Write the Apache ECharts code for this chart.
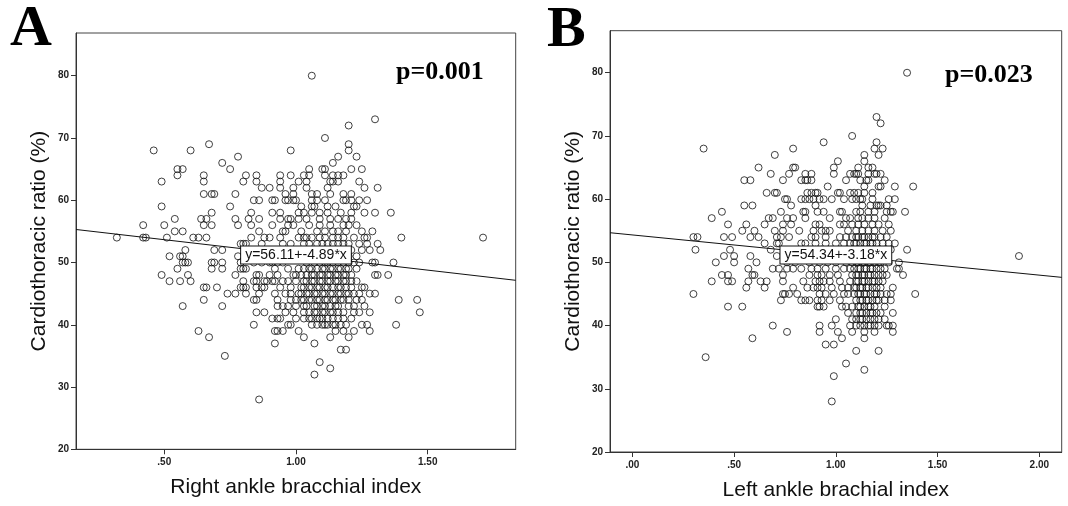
<!DOCTYPE html>
<html>
<head>
<meta charset="utf-8">
<script src="https://cdn.jsdelivr.net/npm/echarts@6/dist/echarts.min.js"></script>
<style>
  html, body { margin: 0; padding: 0; background: #fff; }
  #chart { width: 1068px; height: 506px; }
</style>
</head>
<body>
<div id="chart"></div>
<script>
// ---------- DATA ----------
// Each row: [cardiothoracic ratio (%), ankle-brachial index values...]
const rightRows = [
  [80, 1.06],
  [73, 1.30],
  [72, 1.20],
  [70, 1.11],
  [69, 0.67, 1.20],
  [68, 0.46, 0.60, 0.98, 1.20],
  [67, 0.78, 1.16, 1.23],
  [66, 0.72, 1.14],
  [65, 0.55, 0.57, 0.75, 1.05, 1.10, 1.11, 1.21, 1.25],
  [64, 0.55, 0.65, 0.81, 0.85, 0.94, 0.98, 1.03, 1.05, 1.11, 1.14, 1.16, 1.18],
  [63, 0.49, 0.65, 0.80, 0.85, 0.94, 1.01, 1.04, 1.13, 1.14, 1.16, 1.24],
  [62, 0.87, 0.90, 0.94, 0.99, 1.04, 1.12, 1.26, 1.31],
  [61, 0.65, 0.68, 0.69, 0.77, 0.96, 0.99, 1.06, 1.08, 1.13, 1.18, 1.21],
  [60, 0.84, 0.86, 0.91, 0.92, 0.96, 0.97, 0.99, 1.00, 1.06, 1.08, 1.11, 1.18, 1.19, 1.21, 1.24, 1.27],
  [59, 0.49, 0.75, 1.02, 1.06, 1.07, 1.12, 1.15, 1.22, 1.23],
  [58, 0.68, 0.83, 0.91, 0.94, 1.01, 1.03, 1.06, 1.09, 1.12, 1.17, 1.21, 1.26, 1.30, 1.36],
  [57, 0.54, 0.64, 0.66, 0.77, 0.82, 0.86, 0.94, 0.97, 0.98, 1.01, 1.04, 1.09, 1.13, 1.16, 1.19, 1.21],
  [56, 0.42, 0.50, 0.65, 0.68, 0.78, 0.83, 0.91, 0.97, 0.99, 1.05, 1.09, 1.13, 1.18, 1.20, 1.23],
  [55, 0.54, 0.57, 0.86, 0.95, 0.96, 1.02, 1.08, 1.11, 1.14, 1.16, 1.19, 1.25, 1.29],
  [54, 0.32, 0.42, 0.43, 0.51, 0.61, 0.63, 0.66, 0.83, 0.88, 0.90, 0.94, 1.01, 1.03, 1.04, 1.06, 1.09, 1.11, 1.14, 1.16, 1.18, 1.22, 1.26, 1.27, 1.40, 1.71],
  [53, 0.79, 0.80, 0.81, 0.87, 0.95, 0.98, 1.03, 1.05, 1.08, 1.10, 1.12, 1.14, 1.16, 1.18, 1.20, 1.24, 1.27, 1.31],
  [52, 0.58, 0.69, 0.72, 0.83, 0.86, 0.92, 1.00, 1.06, 1.09, 1.11, 1.13, 1.15, 1.17, 1.19, 1.21, 1.25, 1.28, 1.32],
  [51, 0.52, 0.56, 0.57, 0.78, 0.83, 0.88, 1.06, 1.09, 1.12, 1.14, 1.16, 1.18, 1.20, 1.23],
  [50, 0.57, 0.58, 0.59, 0.68, 0.69, 0.72, 0.79, 0.84, 0.87, 0.90, 0.91, 0.93, 0.95, 1.04, 1.07, 1.09, 1.11, 1.12, 1.14, 1.16, 1.18, 1.20, 1.22, 1.24, 1.29, 1.30, 1.37],
  [49, 0.55, 0.68, 0.72, 0.79, 0.80, 0.81, 0.92, 0.97, 1.01, 1.03, 1.05, 1.06, 1.08, 1.10, 1.11, 1.13, 1.14, 1.16, 1.17, 1.19, 1.20, 1.23],
  [48, 0.49, 0.59, 0.77, 0.85, 0.86, 0.90, 0.93, 0.99, 1.00, 1.02, 1.04, 1.06, 1.07, 1.09, 1.10, 1.12, 1.13, 1.15, 1.16, 1.18, 1.19, 1.21, 1.30, 1.31, 1.35],
  [47, 0.52, 0.56, 0.60, 0.80, 0.84, 0.85, 0.88, 0.89, 0.91, 0.92, 0.95, 0.97, 1.00, 1.03, 1.04, 1.06, 1.07, 1.09, 1.10, 1.12, 1.13, 1.15, 1.16, 1.18, 1.19, 1.21, 1.23],
  [46, 0.65, 0.66, 0.70, 0.79, 0.80, 0.81, 0.85, 0.87, 0.88, 0.94, 0.98, 1.02, 1.03, 1.05, 1.06, 1.08, 1.09, 1.11, 1.12, 1.14, 1.16, 1.17, 1.19, 1.21, 1.25, 1.26],
  [45, 0.74, 0.77, 0.81, 0.86, 0.92, 0.96, 0.98, 1.01, 1.02, 1.04, 1.05, 1.07, 1.08, 1.10, 1.11, 1.13, 1.14, 1.16, 1.17, 1.19, 1.20, 1.22, 1.24, 1.28, 1.30],
  [44, 0.65, 0.84, 0.85, 0.93, 0.98, 1.00, 1.02, 1.03, 1.05, 1.06, 1.08, 1.09, 1.11, 1.12, 1.14, 1.15, 1.17, 1.18, 1.20, 1.23, 1.25, 1.39, 1.46],
  [43, 0.57, 0.72, 0.93, 0.95, 0.97, 1.00, 1.03, 1.04, 1.07, 1.08, 1.10, 1.11, 1.13, 1.15, 1.16, 1.20, 1.22, 1.26],
  [42, 0.85, 0.88, 0.96, 0.99, 1.03, 1.05, 1.07, 1.08, 1.10, 1.11, 1.13, 1.14, 1.16, 1.18, 1.22, 1.24, 1.28, 1.47],
  [41, 0.91, 0.93, 0.94, 1.00, 1.03, 1.05, 1.06, 1.08, 1.09, 1.10, 1.12, 1.14, 1.16, 1.18, 1.21],
  [40, 0.84, 0.97, 0.98, 1.06, 1.08, 1.10, 1.11, 1.12, 1.14, 1.15, 1.17, 1.19, 1.25, 1.27, 1.38],
  [39, 0.63, 0.92, 0.93, 0.95, 1.01, 1.15, 1.18, 1.22, 1.28],
  [38, 0.67, 1.03, 1.13, 1.20],
  [37, 0.92, 1.07],
  [36, 1.17, 1.19],
  [35, 0.73],
  [34, 1.09],
  [33, 1.13],
  [32, 1.07],
  [28, 0.86]
];

const leftRows = [
  [80, 1.35],
  [73, 1.20],
  [72, 1.22],
  [70, 1.08],
  [69, 0.94, 1.20],
  [68, 0.35, 0.79, 1.19, 1.23],
  [67, 0.70, 1.14, 1.21],
  [66, 1.01, 1.14],
  [65, 0.62, 0.79, 0.80, 0.99, 1.11, 1.16, 1.18],
  [64, 0.68, 0.77, 0.85, 0.88, 0.99, 1.07, 1.09, 1.10, 1.11, 1.16, 1.19, 1.20, 1.22],
  [63, 0.55, 0.58, 0.74, 0.83, 0.85, 0.86, 0.88, 1.05, 1.12, 1.15, 1.16, 1.24],
  [62, 0.96, 1.14, 1.21, 1.22, 1.29, 1.38],
  [61, 0.66, 0.70, 0.71, 0.86, 0.88, 0.90, 0.91, 1.01, 1.02, 1.07, 1.09, 1.11, 1.14, 1.18],
  [60, 0.75, 0.76, 0.83, 0.85, 0.87, 0.89, 0.92, 0.94, 0.98, 1.04, 1.08, 1.10, 1.12, 1.13, 1.18, 1.26, 1.29],
  [59, 0.55, 0.59, 0.78, 0.90, 1.13, 1.17, 1.20, 1.21, 1.22, 1.25],
  [58, 0.44, 0.73, 0.84, 0.85, 0.91, 0.94, 1.02, 1.03, 1.10, 1.12, 1.16, 1.19, 1.25, 1.27, 1.28, 1.34],
  [57, 0.39, 0.67, 0.69, 0.76, 0.79, 0.85, 0.97, 1.05, 1.07, 1.11, 1.13, 1.16, 1.19, 1.24],
  [56, 0.47, 0.56, 0.65, 0.74, 0.78, 0.90, 0.92, 1.02, 1.04, 1.08, 1.11, 1.14, 1.18, 1.21, 1.26],
  [55, 0.54, 0.60, 0.70, 0.74, 0.82, 0.89, 0.93, 0.95, 0.97, 1.06, 1.10, 1.13, 1.16, 1.19, 1.23, 1.27],
  [54, 0.30, 0.32, 0.45, 0.49, 0.58, 0.62, 0.71, 0.73, 0.77, 0.88, 0.90, 0.95, 1.02, 1.05, 1.08, 1.10, 1.11, 1.13, 1.14, 1.16, 1.18, 1.19, 1.22, 1.25],
  [53, 0.65, 0.71, 0.72, 0.83, 0.85, 0.90, 0.95, 1.00, 1.04, 1.07, 1.09, 1.10, 1.12, 1.14, 1.15, 1.17, 1.18, 1.20, 1.23, 1.26, 1.29],
  [52, 0.31, 0.48, 0.68, 0.90, 0.93, 1.02, 1.08, 1.10, 1.12, 1.13, 1.15, 1.17, 1.18, 1.21, 1.22, 1.25, 1.27, 1.35],
  [51, 0.45, 0.50, 0.58, 0.71, 0.85, 0.88, 0.96, 1.06, 1.09, 1.11, 1.12, 1.14, 1.15, 1.17, 1.20, 1.21, 1.24, 1.90],
  [50, 0.41, 0.50, 0.61, 0.76, 0.80, 0.87, 0.92, 0.96, 1.00, 1.05, 1.08, 1.10, 1.11, 1.13, 1.14, 1.16, 1.17, 1.19, 1.21, 1.22, 1.26, 1.31],
  [49, 0.57, 0.69, 0.72, 0.76, 0.79, 0.83, 0.88, 0.91, 0.95, 1.00, 1.04, 1.07, 1.09, 1.11, 1.12, 1.14, 1.15, 1.17, 1.18, 1.20, 1.22, 1.24, 1.30, 1.31],
  [48, 0.44, 0.47, 0.59, 0.60, 0.74, 0.87, 0.91, 0.93, 0.97, 1.01, 1.08, 1.10, 1.11, 1.13, 1.14, 1.16, 1.17, 1.19, 1.21, 1.23, 1.25, 1.33],
  [47, 0.39, 0.47, 0.49, 0.57, 0.63, 0.66, 0.74, 0.84, 0.90, 0.92, 0.94, 0.97, 1.02, 1.07, 1.10, 1.11, 1.13, 1.14, 1.16, 1.18, 1.19, 1.21, 1.23],
  [46, 0.56, 0.65, 0.79, 0.86, 0.89, 0.91, 0.93, 0.98, 1.03, 1.06, 1.09, 1.10, 1.12, 1.13, 1.15, 1.16, 1.18, 1.20, 1.22, 1.28],
  [45, 0.30, 0.74, 0.75, 0.77, 0.81, 0.92, 0.95, 0.99, 1.04, 1.06, 1.09, 1.11, 1.12, 1.14, 1.15, 1.17, 1.19, 1.20, 1.22, 1.25, 1.27, 1.39],
  [44, 0.73, 0.83, 0.85, 0.87, 0.91, 0.93, 0.97, 1.02, 1.10, 1.12, 1.13, 1.15, 1.16, 1.18, 1.20, 1.21, 1.24, 1.27],
  [43, 0.47, 0.54, 0.91, 0.92, 0.94, 1.03, 1.05, 1.08, 1.11, 1.12, 1.14, 1.16, 1.17, 1.19, 1.24],
  [42, 1.06, 1.10, 1.12, 1.13, 1.15, 1.17, 1.18, 1.20, 1.22, 1.28],
  [41, 1.00, 1.08, 1.10, 1.12, 1.13, 1.15, 1.17, 1.19, 1.21, 1.24],
  [40, 0.69, 0.92, 0.98, 1.07, 1.10, 1.12, 1.14, 1.16, 1.17, 1.19, 1.21, 1.25, 1.26, 1.28],
  [39, 0.76, 0.92, 1.01, 1.08, 1.14, 1.19, 1.28],
  [38, 0.59, 1.03, 1.14],
  [37, 0.95, 0.99],
  [36, 1.10, 1.21],
  [35, 0.36],
  [34, 1.05],
  [33, 1.14],
  [32, 0.99],
  [28, 0.98]
];

// Regression fits printed on the chart: [intercept, slope]
const rightFit = [56.11, -4.89];
const leftFit = [54.34, -3.18];

// Axis ranges and ticks
const rightXRange = [0.165, 1.834];
const leftXRange = [-0.11, 2.11];
const yRangeA = [20, 86.86];
const yRangeB = [20, 86.65];
const rightXTicks = [0.5, 1.0, 1.5];
const leftXTicks = [0, 0.5, 1.0, 1.5, 2.0];
const yTicks = [20, 30, 40, 50, 60, 70, 80];

const labels = {
  panelA: 'A', panelB: 'B',
  pA: 'p=0.001', pB: 'p=0.023',
  xA: 'Right ankle bracchial index', xB: 'Left ankle brachial index',
  y: 'Cardiothoracic ratio (%)'
};

// ---------- BUILD ----------
function toPoints(rows) {
  const pts = [];
  rows.forEach(r => { for (let i = 1; i < r.length; i++) pts.push([r[i], r[0]]); });
  return pts;
}
function fitLine(fit, range) {
  return [[range[0], fit[0] + fit[1] * range[0]], [range[1], fit[0] + fit[1] * range[1]]];
}
function fitText(fit) {
  return 'y=' + fit[0].toFixed(2) + '+' + fit[1].toFixed(2) + '*x';
}
const fmtX = v => v.toFixed(2).replace(/^0/, '');

const tickFont = { fontSize: 10, fontWeight: 'bold', fontFamily: 'Liberation Sans', color: '#222' };
const nameFont = { fontSize: 21, fontFamily: 'Liberation Sans', color: '#111' };
const axisLine = { show: true, onZero: false, lineStyle: { color: '#333', width: 1 } };

function xAxis(gridIndex, range, ticks, name, gap) {
  return {
    type: 'value', gridIndex, min: range[0], max: range[1],
    name, nameLocation: 'middle', nameGap: gap, nameTextStyle: nameFont,
    axisLine,
    axisTick: { show: true, length: 5, customValues: ticks, lineStyle: { color: '#333' } },
    axisLabel: Object.assign({ customValues: ticks, margin: 8, formatter: fmtX }, tickFont),
    splitLine: { show: false }
  };
}
function yAxis(gridIndex, range, name) {
  return {
    type: 'value', gridIndex, min: range[0], max: range[1],
    name, nameLocation: 'middle', nameGap: 26, nameTextStyle: nameFont,
    axisLine,
    axisTick: { show: true, length: 5, customValues: yTicks, lineStyle: { color: '#333' } },
    axisLabel: Object.assign({ customValues: yTicks, margin: 7 }, tickFont),
    splitLine: { show: false }
  };
}
const circle = { color: 'rgba(255,255,255,0)', borderColor: '#111', borderWidth: 1 };
function scatter(i, rows) {
  return {
    type: 'scatter', xAxisIndex: i, yAxisIndex: i, data: toPoints(rows),
    symbol: 'circle', symbolSize: 7, itemStyle: circle, z: 2, silent: true
  };
}
function fitSeries(i, fit, range) {
  return {
    type: 'line', xAxisIndex: i, yAxisIndex: i, data: fitLine(fit, range),
    showSymbol: false, symbol: 'none', lineStyle: { color: '#111', width: 1 }, z: 3, silent: true,
    markPoint: {
      symbol: 'rect', symbolSize: 1, itemStyle: { color: 'rgba(0,0,0,0)' }, silent: true,
      label: {
        show: true, position: 'inside', formatter: fitText(fit),
        backgroundColor: '#fff', borderColor: '#111', borderWidth: 1,
        padding: [2, 4, 1, 4], fontSize: 14, fontFamily: 'Liberation Sans', color: '#111'
      },
      data: [{ coord: [1.0, fit[0] + fit[1] * 1.0] }]
    }
  };
}

const chart = echarts.init(document.getElementById('chart'), null, { renderer: 'canvas' });
chart.setOption({
  animation: false,
  backgroundColor: '#fff',
  grid: [
    { left: 76, top: 33, width: 439.7, height: 416.3, show: true, borderColor: '#444', borderWidth: 1, backgroundColor: 'transparent' },
    { left: 610, top: 30.7, width: 451.7, height: 426.6, show: true, borderColor: '#444', borderWidth: 1, backgroundColor: 'transparent' }
  ],
  xAxis: [
    xAxis(0, rightXRange, rightXTicks, labels.xA, 27),
    xAxis(1, leftXRange, leftXTicks, labels.xB, 28)
  ],
  yAxis: [
    yAxis(0, yRangeA, labels.y),
    yAxis(1, yRangeB, labels.y)
  ],
  series: [
    scatter(0, rightRows),
    scatter(1, leftRows),
    fitSeries(0, rightFit, rightXRange),
    fitSeries(1, leftFit, leftXRange)
  ],
  graphic: [
    { type: 'text', z: 10, style: { x: 10, y: 30.4, text: labels.panelA, font: 'bold 58px "Liberation Serif"', fill: '#000', align: 'left', verticalAlign: 'middle' } },
    { type: 'text', z: 10, style: { x: 547, y: 31, text: labels.panelB, font: 'bold 58px "Liberation Serif"', fill: '#000', align: 'left', verticalAlign: 'middle' } },
    { type: 'text', z: 10, style: { x: 396, y: 72.5, text: labels.pA, font: 'bold 26px "Liberation Serif"', fill: '#000', align: 'left', verticalAlign: 'middle' } },
    { type: 'text', z: 10, style: { x: 945, y: 75, text: labels.pB, font: 'bold 26px "Liberation Serif"', fill: '#000', align: 'left', verticalAlign: 'middle' } }
  ]
});
</script>
</body>
</html>
